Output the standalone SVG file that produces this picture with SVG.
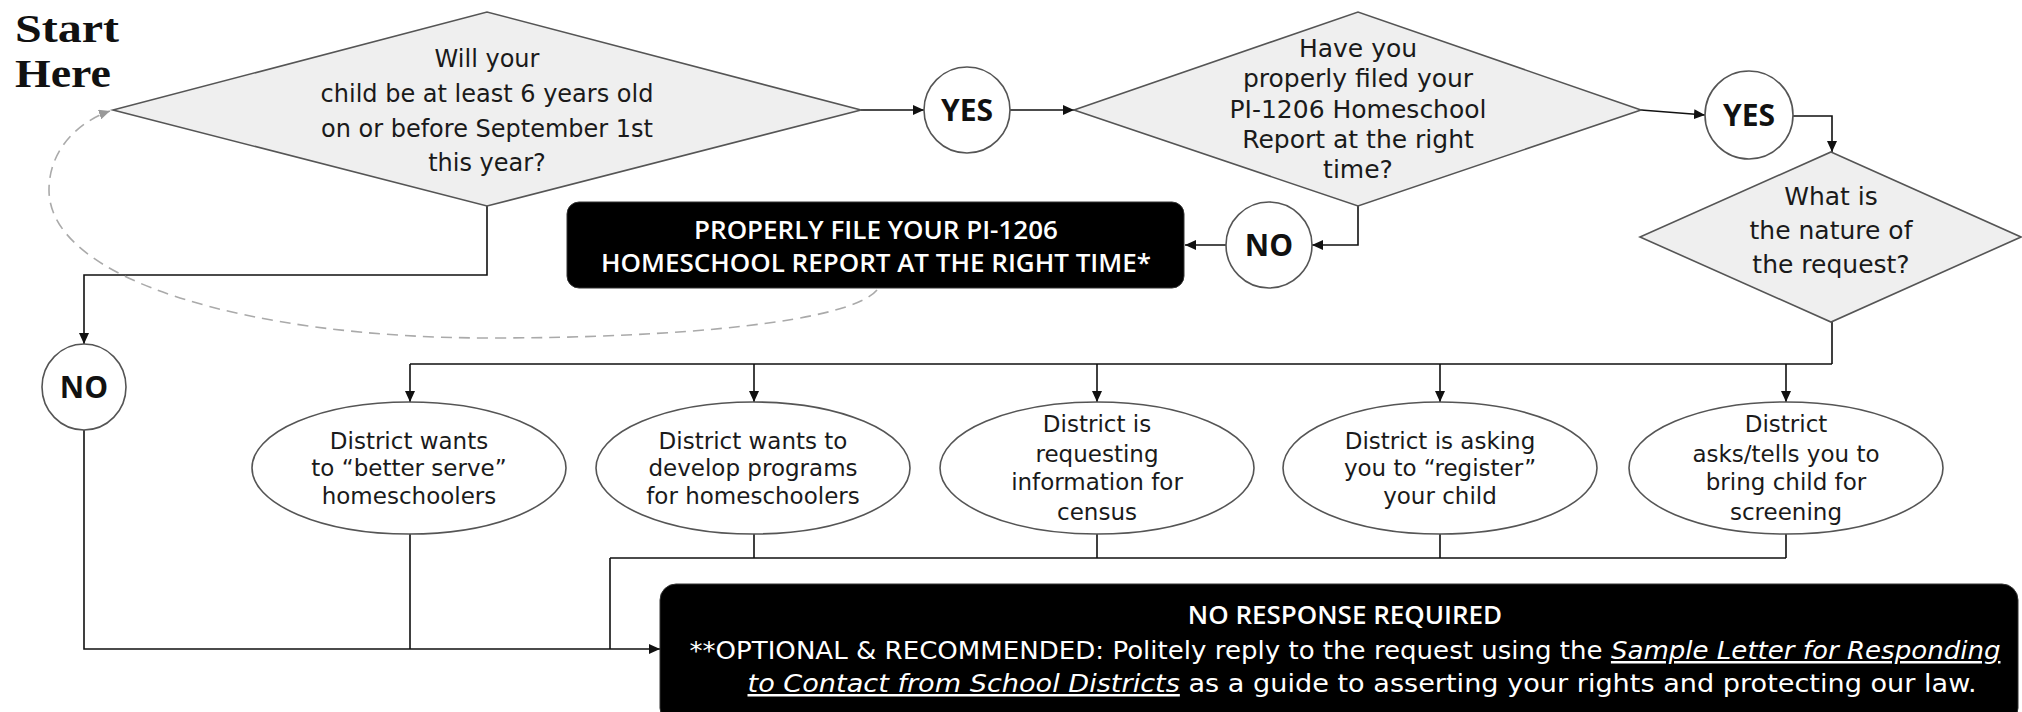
<svg xmlns="http://www.w3.org/2000/svg" width="2022" height="712" viewBox="0 0 2022 712">
<style>
.dia{fill:#efefef;stroke:#555;stroke-width:1.6}
.oval{fill:#fff;stroke:#555;stroke-width:1.6}
.box{fill:#000;stroke:#333;stroke-width:1}
.t{font-family:"DejaVu Sans","Open Sans",sans-serif;fill:#1a1a1a;text-anchor:middle}
.q1{font-size:24px}
.q{font-size:25px}
.o{font-size:23px}
.yn{font-family:"Open Sans","DejaVu Sans",sans-serif;font-weight:bold;font-size:30px;fill:#111;text-anchor:middle}
.w{font-family:"Open Sans","DejaVu Sans",sans-serif;fill:#fff;text-anchor:middle;font-size:26px;font-weight:600}
.wb{font-family:"DejaVu Sans","Open Sans",sans-serif;fill:#fff;text-anchor:middle;font-size:25px}
.sh{font-family:"Liberation Serif",serif;font-weight:bold;font-size:40px;fill:#111}
.c{fill:none;stroke:#111;stroke-width:1.6}
.d{fill:none;stroke:#aaa;stroke-width:1.6;stroke-dasharray:11 7}
</style>
<defs>
<marker id="ah" markerUnits="userSpaceOnUse" markerWidth="12" markerHeight="10" refX="11" refY="5" orient="auto"><path d="M0,0 L11,5 L0,10 z" fill="#111"/></marker>
<marker id="ahg" markerUnits="userSpaceOnUse" markerWidth="12" markerHeight="10" refX="11" refY="5" orient="auto"><path d="M0,0 L11,5 L0,10 z" fill="#999"/></marker>
</defs>

<g id="startHere">
<text class="sh" x="15" y="42" textLength="104" lengthAdjust="spacingAndGlyphs">Start</text>
<text class="sh" x="15" y="87" textLength="96" lengthAdjust="spacingAndGlyphs">Here</text>
</g>

<g id="connectors">
<path class="c" d="M861 110 H924" marker-end="url(#ah)"/>
<path class="c" d="M1010 110 H1074" marker-end="url(#ah)"/>
<path class="c" d="M1641 110 L1705 115" marker-end="url(#ah)"/>
<path class="c" d="M1793 116 H1832 V152" marker-end="url(#ah)"/>
<path class="c" d="M1358 206 V245 H1312" marker-end="url(#ah)"/>
<path class="c" d="M1226 245 H1185" marker-end="url(#ah)"/>
<path class="c" d="M487 206 V275 H84 V344" marker-end="url(#ah)"/>
<path class="c" d="M84 430 V649 H660" marker-end="url(#ah)"/>
<path class="c" d="M1832 322 V364 M410 364 H1832"/>
<path class="c" d="M410 364 V402" marker-end="url(#ah)"/>
<path class="c" d="M754 364 V402" marker-end="url(#ah)"/>
<path class="c" d="M1097 364 V402" marker-end="url(#ah)"/>
<path class="c" d="M1440 364 V402" marker-end="url(#ah)"/>
<path class="c" d="M1786 364 V402" marker-end="url(#ah)"/>
<path class="c" d="M410 534 V649 M754 534 V558 M1097 534 V558 M1440 534 V558 M1786 534 V558 M610 558 H1786 M610 558 V649"/>
<path class="d" d="M877 290 C850 322 680 338 490 338 C250 338 49 280 49 190 C49 150 78 122 110 111" marker-end="url(#ahg)"/>
</g>

<g id="q1">
<polygon class="dia" points="113,110 487,12 861,110 487,206"/>
<text class="t q1"><tspan x="487" y="67">Will your</tspan><tspan x="487" y="102">child be at least 6 years old</tspan><tspan x="487" y="137">on or before September 1st</tspan><tspan x="487" y="171">this year?</tspan></text>
</g>
<g id="yes1">
<ellipse class="oval" cx="967" cy="110" rx="43" ry="43"/>
<text class="yn" x="967" y="121">YES</text>
</g>
<g id="q2">
<polygon class="dia" points="1074,110 1358,12 1641,110 1358,206"/>
<text class="t q"><tspan x="1358" y="57">Have you</tspan><tspan x="1358" y="87">properly filed your</tspan><tspan x="1358" y="118">PI-1206 Homeschool</tspan><tspan x="1358" y="148">Report at the right</tspan><tspan x="1358" y="178">time?</tspan></text>
</g>
<g id="yes2">
<ellipse class="oval" cx="1749" cy="115" rx="44" ry="44"/>
<text class="yn" x="1749" y="126">YES</text>
</g>
<g id="q3">
<polygon class="dia" points="1831,152 2021,237 1831,322 1640,237"/>
<text class="t q"><tspan x="1831" y="205">What is</tspan><tspan x="1831" y="239">the nature of</tspan><tspan x="1831" y="273">the request?</tspan></text>
</g>
<g id="no2">
<ellipse class="oval" cx="1269" cy="245" rx="43" ry="43"/>
<text class="yn" x="1269" y="256">NO</text>
</g>
<g id="fileBox">
<rect class="box" x="567" y="202" width="617" height="86" rx="12"/>
<text class="w"><tspan x="876" y="239">PROPERLY FILE YOUR PI-1206</tspan><tspan x="876" y="272">HOMESCHOOL REPORT AT THE RIGHT TIME*</tspan></text>
</g>
<g id="no1">
<ellipse class="oval" cx="84" cy="387" rx="42" ry="43"/>
<text class="yn" x="84" y="398">NO</text>
</g>
<g id="opt1">
<ellipse class="oval" cx="409" cy="468" rx="157" ry="66"/>
<text class="t o"><tspan x="409" y="449">District wants</tspan><tspan x="409" y="476">to “better serve”</tspan><tspan x="409" y="504">homeschoolers</tspan></text>
</g>
<g id="opt2">
<ellipse class="oval" cx="753" cy="468" rx="157" ry="66"/>
<text class="t o"><tspan x="753" y="449">District wants to</tspan><tspan x="753" y="476">develop programs</tspan><tspan x="753" y="504">for homeschoolers</tspan></text>
</g>
<g id="opt3">
<ellipse class="oval" cx="1097" cy="468" rx="157" ry="66"/>
<text class="t o"><tspan x="1097" y="432">District is</tspan><tspan x="1097" y="462">requesting</tspan><tspan x="1097" y="490">information for</tspan><tspan x="1097" y="520">census</tspan></text>
</g>
<g id="opt4">
<ellipse class="oval" cx="1440" cy="468" rx="157" ry="66"/>
<text class="t o"><tspan x="1440" y="449">District is asking</tspan><tspan x="1440" y="476">you to “register”</tspan><tspan x="1440" y="504">your child</tspan></text>
</g>
<g id="opt5">
<ellipse class="oval" cx="1786" cy="468" rx="157" ry="66"/>
<text class="t o"><tspan x="1786" y="432">District</tspan><tspan x="1786" y="462">asks/tells you to</tspan><tspan x="1786" y="490">bring child for</tspan><tspan x="1786" y="520">screening</tspan></text>
</g>
<g id="noResponse">
<rect class="box" x="660" y="584" width="1358" height="140" rx="16"/>
<text class="w" x="1345" y="624">NO RESPONSE REQUIRED</text>
<text class="wb" x="1345" y="659" textLength="1311" lengthAdjust="spacingAndGlyphs">**OPTIONAL &amp; RECOMMENDED: Politely reply to the request using the <tspan font-style="italic" text-decoration="underline">Sample Letter for Responding</tspan></text>
<text class="wb" x="1362" y="692" textLength="1229" lengthAdjust="spacingAndGlyphs"><tspan font-style="italic" text-decoration="underline">to Contact from School Districts</tspan> as a guide to asserting your rights and protecting our law.</text>
</g>
</svg>
